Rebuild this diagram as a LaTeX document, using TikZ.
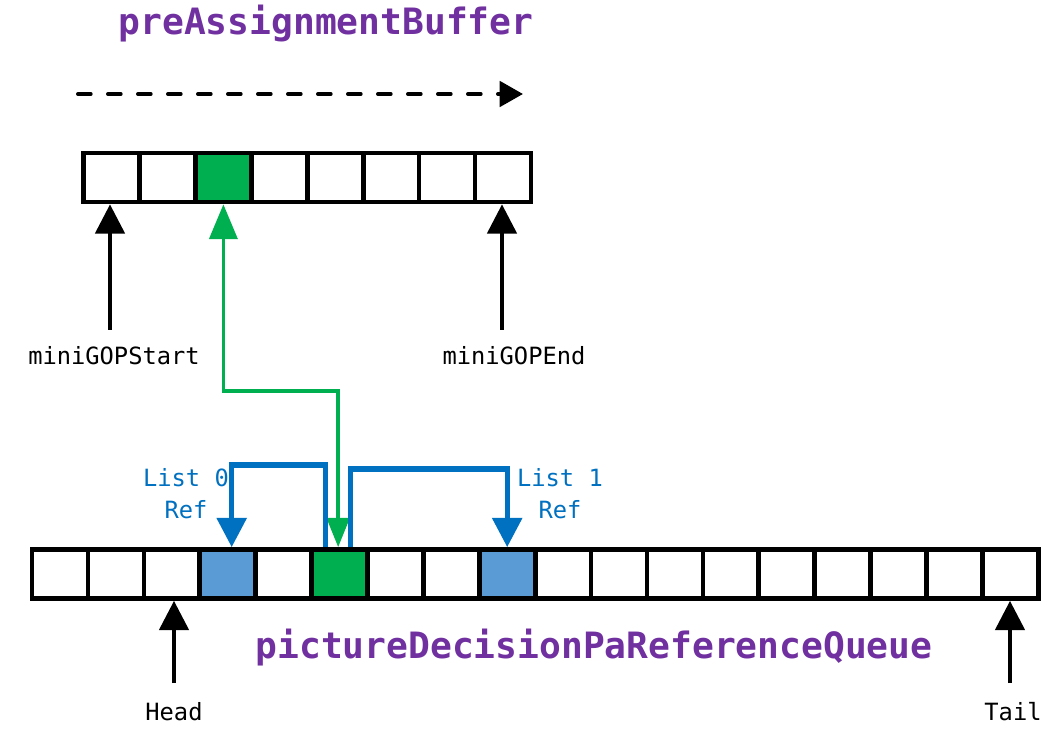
\documentclass[tikz,border=0pt]{standalone}
\usepackage{fontspec}
\setmonofont{DejaVu Sans Mono}
\usepackage{tikz}
\usetikzlibrary{arrows.meta}
\definecolor{CPurple}{HTML}{7030A0}
\definecolor{CGreen}{HTML}{00B050}
\definecolor{CBlue}{HTML}{5B9BD5}
\definecolor{CLink}{HTML}{0070C0}

\begin{document}
\begin{tikzpicture}[x=0.75pt,y=-0.75pt,inner sep=0pt,
  cell/.style={draw,line width=3.5pt,minimum width=41.9pt,minimum height=36.8pt,fill=white},
  title/.style={font=\ttfamily\bfseries\fontsize{27.2}{29}\selectfont,text=CPurple},
  lbl/.style={font=\ttfamily\fontsize{17.8}{19}\selectfont},
  reflbl/.style={font=\ttfamily\fontsize{17.8}{24}\selectfont,text=CLink,align=center},
  ptr/.style={line width=3pt,-{Triangle[length=22pt,width=22pt]}},
  gline/.style={draw=CGreen,line width=2.6pt,{Triangle[length=26pt,width=21pt]}-{Triangle[length=22pt,width=17pt]}},
  bline/.style={draw=CLink,line width=3.8pt,-{Triangle[length=22pt,width=22pt]}}]
\useasboundingbox (0,0) rectangle (1051,731);

% buffer cells
\foreach \i in {0,...,7}{
  \def\c{white}
  \ifnum\i=2 \def\c{CGreen}\fi
  \node[cell,fill=\c] (b\i) at ({111.6+55.9*\i},177.5) {};
}
% queue cells
\foreach \i in {0,...,17}{
  \def\c{white}
  \ifnum\i=3 \def\c{CBlue}\fi
  \ifnum\i=5 \def\c{CGreen}\fi
  \ifnum\i=8 \def\c{CBlue}\fi
  \node[cell,fill=\c] (q\i) at ({60+55.9*\i},574) {};
}

% texts
\node[title] (tbuf) at (326,24) {preAssignmentBuffer};
\node[title] (tque) at (594,648) {pictureDecisionPaReferenceQueue};
\node[lbl] (mstart) at (114,356) {miniGOPStart};
\node[lbl] (mend) at (514,356) {miniGOPEnd};
\node[lbl] (head) at (174,712) {Head};
\node[lbl] (tail) at (1013,712) {Tail};
\node[reflbl] (ref0) at (186,494) {List 0\\Ref};
\node[reflbl] (ref1) at (560,494) {List 1\\Ref};

% pointer tails
\coordinate (s0) at (110,330);
\coordinate (s1) at (502,330);
\coordinate (h0) at (174,683);
\coordinate (t0) at (1010,683);
\coordinate (d0) at (78,94);
\coordinate (d1) at (523,94);
\coordinate (g1) at (0,391);
\coordinate (l0) at (0,465);
\coordinate (l1) at (0,469);
\coordinate (r0) at ([xshift=-10.5pt]q5.north);
\coordinate (r1) at ([xshift=8pt]q5.north);

\draw[line width=3pt,line cap=round,dash pattern=on 9.5pt off 13pt,-{Triangle[length=17.5pt,width=19pt]}] (d0) -- (d1);
\draw[ptr] (s0) -- (s0 |- b0.south);
\draw[ptr] (s1) -- (s1 |- b7.south);
\draw[ptr] (h0) -- (h0 |- q2.south);
\draw[ptr] (t0) -- (t0 |- q17.south);

\draw[gline] (b2.south) -- (b2.south |- g1) -| ([xshift=-1pt]q5.north);
\draw[bline] (r0) -- (r0 |- l0) -| ([xshift=3pt]q3.north);
\draw[bline] (r1) -- (r1 |- l1) -| (q8.north);
\end{tikzpicture}
\end{document}
